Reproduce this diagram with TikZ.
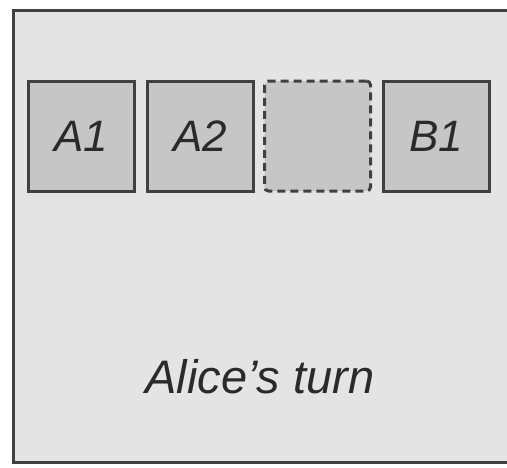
\documentclass[tikz,border=0pt]{standalone}
\usepackage{fontspec}
\setmainfont{Liberation Sans}
\definecolor{bg}{HTML}{E4E4E4}
\definecolor{boxfill}{HTML}{C6C6C6}
\definecolor{edge}{HTML}{404040}
\definecolor{txt}{HTML}{2A2A2A}
\begin{document}
\begin{tikzpicture}[x=1pt,y=-1pt,
  cell/.style={draw=edge,line width=3pt,fill=boxfill,minimum width=106pt,minimum height=110pt,inner sep=0pt,
    font=\fontsize{44}{44}\selectfont\itshape,text=txt},
  emptycell/.style={cell,rounded corners=4pt,dash pattern=on 8pt off 5pt}]
\useasboundingbox (0,0) rectangle (507,467);
\fill[white] (0,0) rectangle (507,467);
\draw[edge,line width=3pt,fill=bg] (13,10) rectangle (520,462);
\node[cell] (a1) at (81,136) {A1};
\node[cell] (a2) at (200,136) {A2};
\node[emptycell] (e) at (317.5,136) {};
\node[cell] (b1) at (436,136) {B1};
\node[font=\fontsize{47}{47}\selectfont\itshape,text=txt,anchor=base] (t) at (260,393) {Alice’s turn};
\end{tikzpicture}
\end{document}
